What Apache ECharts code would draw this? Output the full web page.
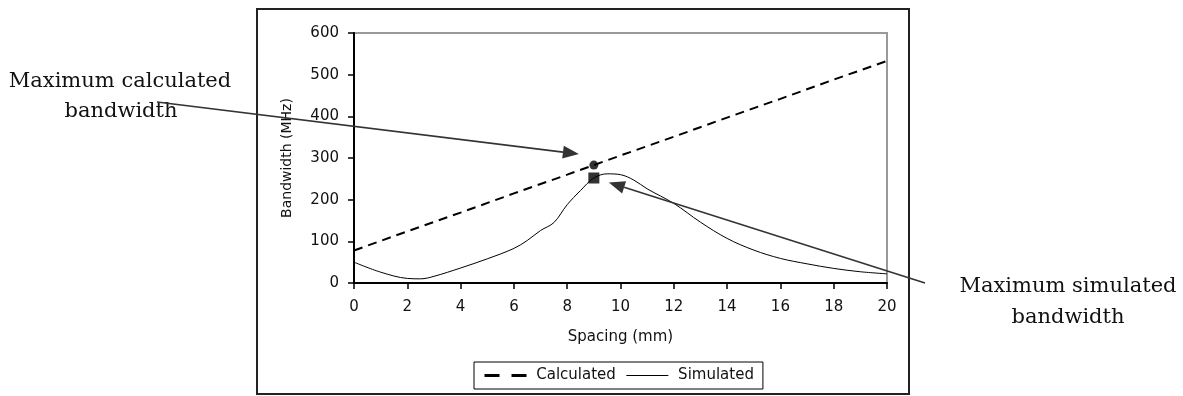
<!DOCTYPE html>
<html>
<head>
<meta charset="utf-8">
<script src="https://cdn.jsdelivr.net/npm/echarts@6/dist/echarts.min.js"></script>
<style>
html,body{margin:0;padding:0;background:#fff;}
#chart{width:1183px;height:396px;}
</style>
</head>
<body>
<div id="chart"></div>
<script>
// ---- data ----
var calcX = [0, 2, 4, 6, 8, 10, 12, 14, 16, 18, 20];
var calcY = [78, 124, 169, 215, 260, 306, 351, 397, 442, 488, 533];
var simX = [0, 1, 2, 2.5, 3, 4, 5, 6, 6.5, 7, 7.5, 8, 8.5, 9, 9.5, 10, 10.5, 11, 12, 13, 14, 15, 16, 17, 18, 19, 20];
var simY = [50, 26, 11, 10, 16, 36, 58, 83, 102, 126, 145, 188, 222, 252, 262, 260, 247, 226, 191, 146, 107, 79, 59, 46, 35, 27, 22];
var calcMax = [9, 283];
var simMax = [9, 252];
var xTicks = {min: 0, max: 20, interval: 2};
var yTicks = {min: 0, max: 600, interval: 100};
var seriesNames = ['Calculated', 'Simulated'];
var noteCalc = ['Maximum calculated', 'bandwidth'];
var noteSim = ['Maximum simulated', 'bandwidth'];

function pairs(xs, ys) { return xs.map(function (x, i) { return [x, ys[i]]; }); }

var chart = echarts.init(document.getElementById('chart'));
var axisFont = {fontFamily: 'DejaVu Sans', fontSize: 15, color: '#111'};

chart.setOption({
  animation: false,
  grid: {left: 354, right: 296, top: 33, bottom: 113, show: true, borderColor: '#9a9a9a', borderWidth: 2, backgroundColor: 'transparent'},
  xAxis: {
    type: 'value', min: xTicks.min, max: xTicks.max, interval: xTicks.interval,
    name: 'Spacing (mm)', nameLocation: 'middle', nameGap: 47,
    nameTextStyle: {fontFamily: 'DejaVu Sans', fontSize: 15, color: '#111'},
    axisLine: {lineStyle: {color: '#000', width: 2}},
    axisTick: {show: true, length: 6, lineStyle: {color: '#000', width: 1.5}},
    axisLabel: Object.assign({margin: 17}, axisFont),
    splitLine: {show: false}
  },
  yAxis: {
    type: 'value', min: yTicks.min, max: yTicks.max, interval: yTicks.interval,
    name: 'Bandwidth (MHz)', nameLocation: 'middle', nameGap: 60,
    nameTextStyle: {fontFamily: 'DejaVu Sans', fontSize: 14, color: '#111'},
    axisLine: {show: true, lineStyle: {color: '#000', width: 2}},
    axisTick: {show: true, length: 6, lineStyle: {color: '#000', width: 1.5}},
    axisLabel: Object.assign({margin: 15}, axisFont),
    splitLine: {show: false}
  },
  legend: {
    data: [
      {name: seriesNames[0], itemStyle: {opacity: 0}, lineStyle: {width: 3, type: [15, 12]}},
      {name: seriesNames[1], itemStyle: {opacity: 0}, lineStyle: {width: 1}}
    ],
    formatter: function (n) { return ' ' + n; },
    left: 474, top: 362, orient: 'horizontal',
    itemWidth: 42, itemHeight: 14, itemGap: 10,
    padding: [6, 9, 6, 9],
    borderColor: '#000', borderWidth: 1,
    textStyle: {fontFamily: 'DejaVu Sans', fontSize: 15, color: '#111'}
  },
  series: [
    {name: seriesNames[0], type: 'line', data: pairs(calcX, calcY), symbol: 'none',
     lineStyle: {color: '#000', width: 2, type: [9, 6]}, itemStyle: {color: '#000'}, z: 3},
    {name: seriesNames[1], type: 'line', data: pairs(simX, simY), symbol: 'none', smooth: 0.35,
     lineStyle: {color: '#000', width: 1}, itemStyle: {color: '#000'}, z: 3},
    {name: 'calcMax', type: 'scatter', data: [calcMax], symbol: 'circle', symbolSize: 9,
     itemStyle: {color: '#000'}, z: 4},
    {name: 'simMax', type: 'scatter', data: [simMax], symbol: 'rect', symbolSize: 11,
     itemStyle: {color: '#000'}, z: 4}
  ]
});

function arrow(from, tip, color) {
  var dx = tip[0] - from[0], dy = tip[1] - from[1];
  var len = Math.sqrt(dx * dx + dy * dy);
  var ux = dx / len, uy = dy / len;
  var L = 16, W = 6.5;
  var bx = tip[0] - ux * L, by = tip[1] - uy * L;
  return [
    {type: 'line', shape: {x1: from[0], y1: from[1], x2: bx, y2: by},
     style: {stroke: color, lineWidth: 1.6}, z: 10},
    {type: 'polygon', shape: {points: [[tip[0], tip[1]], [bx - uy * W, by + ux * W], [bx + uy * W, by - ux * W]]},
     style: {fill: color}, z: 10}
  ];
}

var pC = chart.convertToPixel({gridIndex: 0}, calcMax);
var pS = chart.convertToPixel({gridIndex: 0}, simMax);
var serif = {fontFamily: 'DejaVu Serif', fontSize: 21, fill: '#111', textAlign: 'center', textVerticalAlign: 'middle'};
function txt(s, x, y) { return {type: 'text', style: Object.assign({text: s, x: x, y: y}, serif), z: 10}; }

var g = [
  {type: 'rect', shape: {x: 257, y: 9, width: 652, height: 385}, style: {fill: 'none', stroke: '#222', lineWidth: 2}, z: 0},
  txt(noteCalc[0], 120, 82), txt(noteCalc[1], 121, 112),
  txt(noteSim[0], 1068, 287), txt(noteSim[1], 1068, 318)
];
g = g.concat(arrow([157, 102], [pC[0] - 15, pC[1] - 11], '#333'));
g = g.concat(arrow([925, 283], [pS[0] + 15, pS[1] + 4.5], '#333'));
chart.setOption({graphic: g});
</script>
</body>
</html>
